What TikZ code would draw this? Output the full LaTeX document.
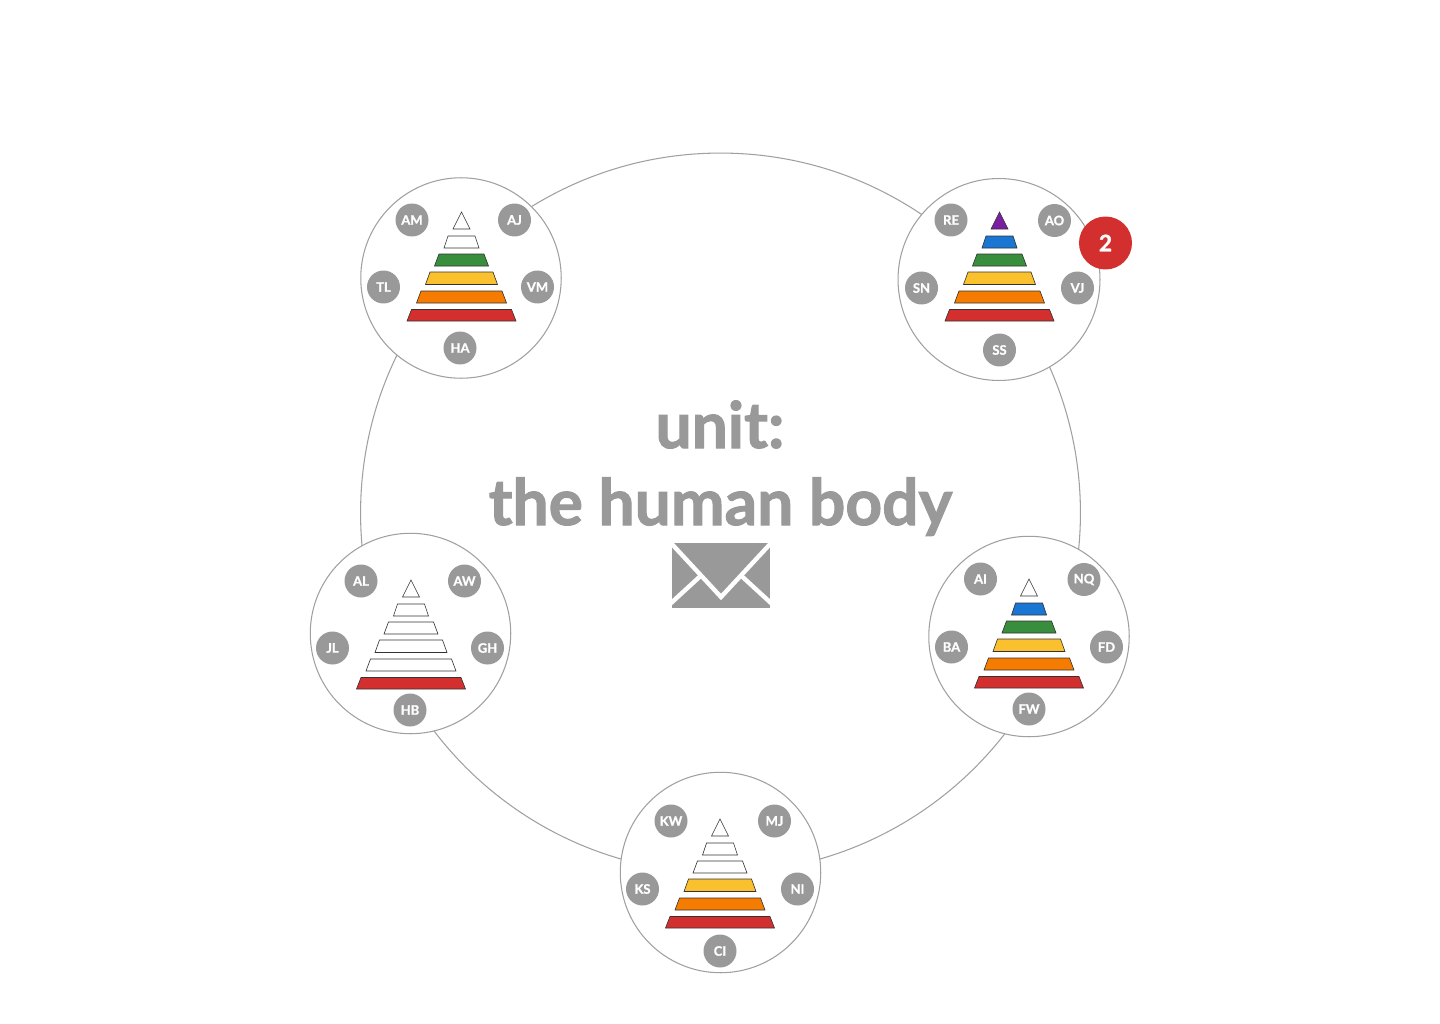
\documentclass[tikz,border=0pt]{standalone}
\usepackage{fontspec}
\setmainfont{Lato}[BoldFeatures={FakeBold=1.2}]
\newfontfamily\titlefont{Lato}[BoldFeatures={FakeBold=1.6}]
\usetikzlibrary{positioning,calc}

\definecolor{ringgray}{HTML}{A0A0A0}
\definecolor{labelgray}{HTML}{999999}
\definecolor{lvlpurple}{HTML}{7B1FA2}
\definecolor{lvlblue}{HTML}{1976D2}
\definecolor{lvlgreen}{HTML}{388E3C}
\definecolor{lvlyellow}{HTML}{FBC02D}
\definecolor{lvlorange}{HTML}{F57C00}
\definecolor{lvlred}{HTML}{D32F2F}

\tikzset{
    ring/.style={circle, draw=ringgray, line width=0.6pt, minimum size=14.4cm, inner sep=0pt, outer sep=0pt},
    pod/.style={circle, draw=ringgray, fill=white, line width=0.6pt, minimum size=4.01cm, inner sep=0pt, outer sep=0pt},
    initials/.style={circle, fill=labelgray, text=white, minimum size=0.66cm, inner sep=0pt, font=\fontsize{7.4}{9}\selectfont\bfseries},
    badge/.style={circle, fill=lvlred, text=white, minimum size=1.06cm, inner sep=0pt, font=\fontsize{13}{15}\selectfont\bfseries},
    title/.style={anchor=base, text=labelgray, inner sep=0pt, font=\fontsize{36.5}{45}\selectfont\titlefont\bfseries},
    level/.style={draw=black!80, line width=0.35pt, line join=miter},
    foldline/.style={white, line width=2.5pt},
}

% pyramid of six levels, #1,#2 is the apex, #3..#8 the fills from top to bottom
\newcommand{\pyramid}[8]{
    \begin{scope}[shift={(#1,#2)}]
        \draw[level, fill=#3] (0,0) -- (8.5,17) -- (-8.5,17) -- cycle;
        \foreach \ytop/\ybot/\wtop/\wbot/\col in {24/36/13.5/17.5/#4, 42/54/22.5/27/#5, 60/72.5/31.5/36/#6, 79/91/40.5/45/#7, 97.5/109/50/54.5/#8}
            \draw[level, fill=\col] (-\wtop,\ytop) -- (\wtop,\ytop) -- (\wbot,\ybot) -- (-\wbot,\ybot) -- cycle;
    \end{scope}
}

\begin{document}
\begin{tikzpicture}[x=0.02cm, y=-0.02cm]
    \useasboundingbox (0,0) rectangle (1440,1024);

    \node[ring] (bigring) at (720.5,513) {};

    \node[pod] (podtl) at (461,278) {};
    \node[pod, minimum size=4.04cm] (podtr) at (999,279.5) {};
    \node[pod] (podr) at (1029,636.5) {};
    \node[pod] (podb) at (720.5,872.5) {};
    \node[pod] (podl) at (410.5,633.5) {};

    % top left
    \pyramid{461.5}{212}{white}{white}{lvlgreen}{lvlyellow}{lvlorange}{lvlred}
    \node[initials] (am) at (412,220) {AM};
    \node[initials] (aj) at (514.5,220) {AJ};
    \node[initials] (tl) at (383.5,287) {TL};
    \node[initials] (vm) at (537.5,287) {VM};
    \node[initials] (ha) at (460,348) {HA};

    % top right
    \pyramid{999.5}{212}{lvlpurple}{lvlblue}{lvlgreen}{lvlyellow}{lvlorange}{lvlred}
    \node[initials] (re) at (951,220) {RE};
    \node[initials] (ao) at (1054.5,220.5) {AO};
    \node[initials] (sn) at (921.5,288) {SN};
    \node[initials] (vj) at (1077.5,288) {VJ};
    \node[initials] (ss) at (999.5,350) {SS};
    \node[badge] (count) at (1105.5,243) {2};

    % right
    \pyramid{1029}{579}{white}{lvlblue}{lvlgreen}{lvlyellow}{lvlorange}{lvlred}
    \node[initials] (ai) at (980.5,579) {AI};
    \node[initials] (nq) at (1084,579.5) {NQ};
    \node[initials] (ba) at (951.5,647) {BA};
    \node[initials] (fd) at (1106.5,647) {FD};
    \node[initials] (fw) at (1029,709) {FW};

    % bottom
    \pyramid{720}{819}{white}{white}{white}{lvlyellow}{lvlorange}{lvlred}
    \node[initials] (kw) at (671,821) {KW};
    \node[initials] (mj) at (774.5,821) {MJ};
    \node[initials] (ks) at (642.5,889) {KS};
    \node[initials] (ni) at (797.5,889) {NI};
    \node[initials] (ci) at (720,951) {CI};

    % left
    \pyramid{411}{580}{white}{white}{white}{white}{white}{lvlred}
    \node[initials] (al) at (361,581) {AL};
    \node[initials] (aw) at (464.5,581) {AW};
    \node[initials] (jl) at (332.5,648) {JL};
    \node[initials] (gh) at (487.5,648) {GH};
    \node[initials] (hb) at (410,710) {HB};

    % centre
    \node[title] (unit) at (720,448) {unit:};
    \node[title] (topic) at (720.5,525) {the human body};

    \node[fill=labelgray, minimum width=1.96cm, minimum height=1.3cm, inner sep=0pt, outer sep=0pt] (envelope) at (721,575.5) {};
    \coordinate (fold) at (721,597);
    \draw[foldline] (670,542) -- (fold) -- (772,542);
    \draw[foldline] (670,604) -- (700.5,576);
    \draw[foldline] (772,604) -- (741.5,576);
\end{tikzpicture}
\end{document}
